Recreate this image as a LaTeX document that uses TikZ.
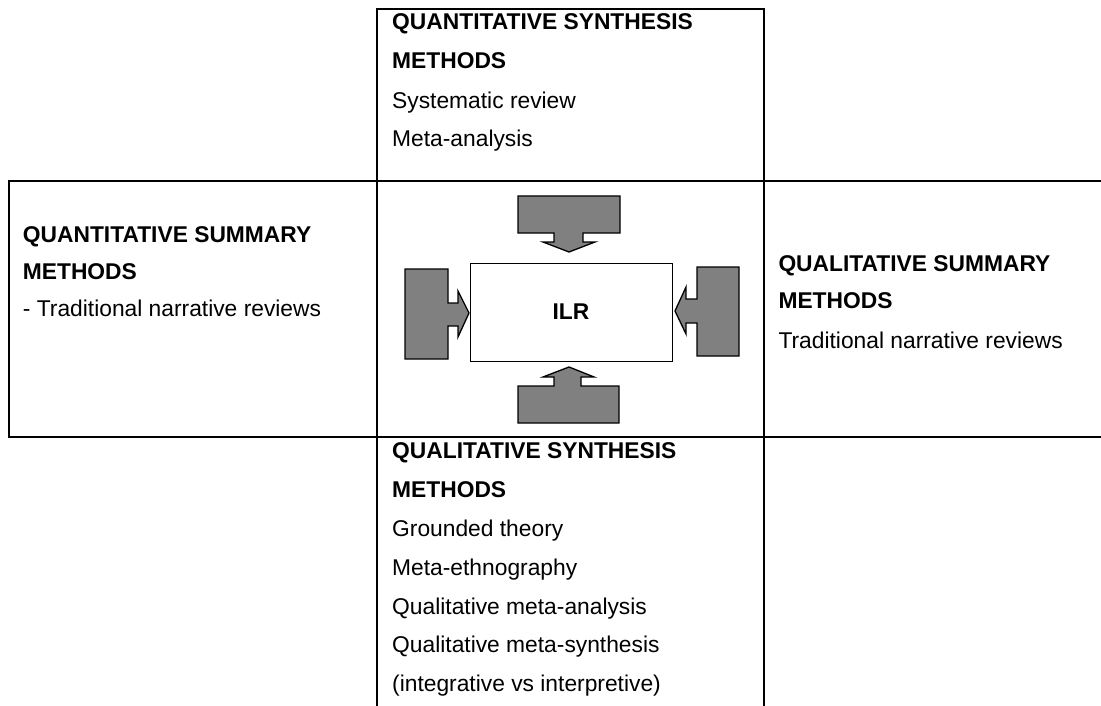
\documentclass[tikz,border=0pt]{standalone}
\usepackage{fontspec}
\setmainfont{Liberation Sans}
\begin{document}
\begin{tikzpicture}[x=1pt,y=-1pt,
  grid/.style={line width=1.9pt},
  txt/.style={anchor=base west,inner sep=0pt,font=\fontsize{22.8}{26}\selectfont},
  hd/.style={txt,font=\fontsize{22.8}{26}\selectfont\bfseries},
  blockarrow/.style={draw=black,fill=black!50,line width=1.3pt,line join=miter},
  core/.style={draw=black,line width=1pt,fill=white,minimum width=202pt,minimum height=98pt,
    inner sep=0pt,font=\fontsize{22.8}{26}\selectfont\bfseries}]
\useasboundingbox (0,0) rectangle (1101,706);

% table rules
\draw[grid] (377,706) -- (377,9) -- (764,9) -- (764,706);
\draw[grid] (1101,181) -- (9,181) -- (9,437) -- (1101,437);

% top cell
\node[hd]  (qs1) at (392,29.3)  {QUANTITATIVE SYNTHESIS};
\node[hd]  (qs2) at (392,68.3)  {METHODS};
\node[txt] (qs3) at (392,108.3) {Systematic review};
\node[txt] (qs4) at (392,146.7) {Meta-analysis};

% left cell
\node[hd]  (qn1) at (22.7,242.7) {QUANTITATIVE SUMMARY};
\node[hd]  (qn2) at (22.7,279.3) {METHODS};
\node[txt] (qn3) at (22.7,316.7) {- Traditional narrative reviews};

% right cell
\node[hd]  (ql1) at (778.3,271.7) {QUALITATIVE SUMMARY};
\node[hd]  (ql2) at (778.3,308.3) {METHODS};
\node[txt] (ql3) at (778.3,348.3) {Traditional narrative reviews};

% bottom cell
\node[hd]  (qy1) at (392,458.3) {QUALITATIVE SYNTHESIS};
\node[hd]  (qy2) at (392,497.7) {METHODS};
\node[txt] (qy3) at (392,536.7) {Grounded theory};
\node[txt] (qy4) at (392,575.7) {Meta-ethnography};
\node[txt] (qy5) at (392,614.3) {Qualitative meta-analysis};
\node[txt] (qy6) at (392,652.3) {Qualitative meta-synthesis};
\node[txt] (qy7) at (392,691)   {(integrative vs interpretive)};

% centre: ILR box
\node[core] (ilr) at (571,312) {ILR};

% block arrows pointing at the ILR box
\draw[blockarrow] (518,196) -- (620,196) -- (620,233) -- (583,233) -- (583,242)
  -- (595,242) -- (569,252) -- (543,242) -- (554,242) -- (554,233) -- (518,233) -- cycle;
\draw[blockarrow] (518,423) -- (619,423) -- (619,386) -- (581,386) -- (581,377)
  -- (594,377) -- (569,367) -- (543,377) -- (554,377) -- (554,386) -- (518,386) -- cycle;
\draw[blockarrow] (405,269) -- (448,269) -- (448,303) -- (458,303) -- (458,291)
  -- (469,313) -- (458,337) -- (458,326) -- (448,326) -- (448,359) -- (405,359) -- cycle;
\draw[blockarrow] (739,267) -- (697,267) -- (697,299) -- (686,299) -- (686,287)
  -- (675,311) -- (686,334) -- (686,323) -- (697,323) -- (697,356) -- (739,356) -- cycle;
\end{tikzpicture}
\end{document}
